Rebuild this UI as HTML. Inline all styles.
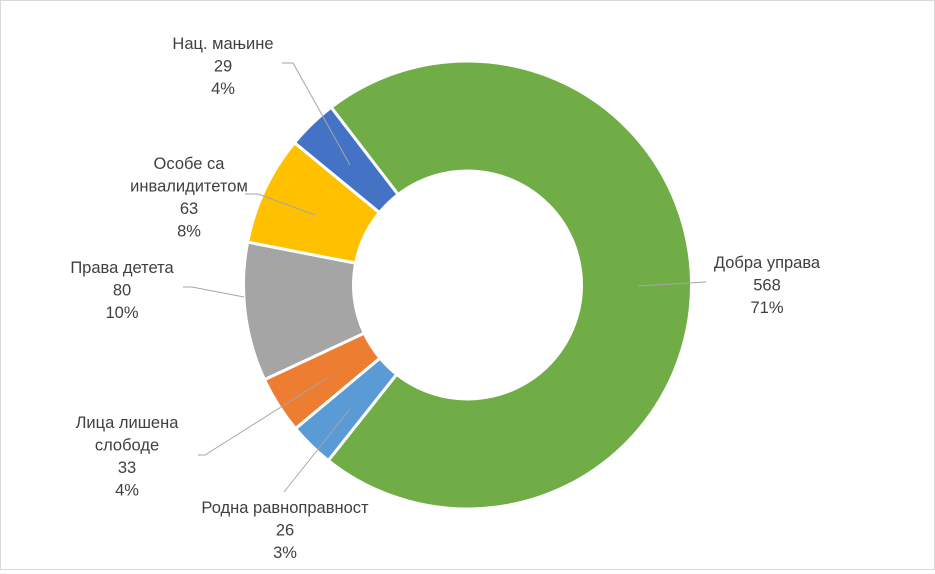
<!DOCTYPE html>
<html><head><meta charset="utf-8"><style>
body{margin:0;background:#fff}
#wrap{position:relative;width:933px;height:568px;border:1px solid #d9d9d9;background:#fff}
svg text{font-family:"Liberation Sans",sans-serif;font-size:16.5px;fill:#404040}
</style></head><body>
<div id="wrap">
<svg id="chart" width="933" height="568"></svg>
</div>
<script>
const categories=["Добра управа","Родна равноправност","Лица лишена слободе","Права детета","Особе са инвалидитетом","Нац. мањине"];
const values=[568,26,33,80,63,29];
const colors=["#70AD47","#5B9BD5","#ED7D31","#A5A5A5","#FFC000","#4472C4"];
const labelLines=[["Добра управа"],["Родна равноправност"],["Лица лишена","слободе"],["Права детета"],["Особе са","инвалидитетом"],["Нац. мањине"]];
const labelPos=[[766,261],[284,506],[126,421],[121,266],[188,162],[222,42]];
const leaders=[[[705,281],[637,285]],[[283,491],[349,408]],[[197,454],[204,454],[326,377]],[[182,286],[191,286],[243,296]],[[244,193],[257,193],[314,214]],[[281,62],[292,62],[349,164]]];
const cx=466.5,cy=284,R=224,r=114,start=-37.5;
const svg=document.getElementById('chart');
const NS='http://www.w3.org/2000/svg';
const total=values.reduce((a,b)=>a+b,0);
function pt(deg,rad){const a=deg*Math.PI/180;return [cx+rad*Math.sin(a),cy-rad*Math.cos(a)];}
let ang=start;
values.forEach((v,i)=>{
 const sw=v/total*360,a0=ang,a1=ang+sw;ang=a1;
 const p0=pt(a0,R),p1=pt(a1,R),q1=pt(a1,r),q0=pt(a0,r),lg=sw>180?1:0;
 const p=document.createElementNS(NS,'path');
 p.setAttribute('d',`M${p0}A${R},${R} 0 ${lg} 1 ${p1}L${q1}A${r},${r} 0 ${lg} 0 ${q0}Z`);
 p.setAttribute('fill',colors[i]);p.setAttribute('stroke','#fff');p.setAttribute('stroke-width','3');
 
 
 svg.appendChild(p);
});
values.forEach((v,i)=>{
 const l=document.createElementNS(NS,'polyline');
 l.setAttribute('points',leaders[i].map(q=>q.join(',')).join(' '));
 l.setAttribute('fill','none');l.setAttribute('stroke','#a6a6a6');l.setAttribute('stroke-width','1');
 
 
 svg.appendChild(l);
 const lines=labelLines[i].concat([String(v),Math.round(v/total*100)+'%']);
 const t=document.createElementNS(NS,'text');
 t.setAttribute('text-anchor','middle');
 
 
 lines.forEach((s,k)=>{const ts=document.createElementNS(NS,'tspan');ts.setAttribute('x',labelPos[i][0]);ts.setAttribute('y',labelPos[i][1]+6+k*22.5);ts.textContent=s;t.appendChild(ts);});
 svg.appendChild(t);
});
</script>
</body></html>
